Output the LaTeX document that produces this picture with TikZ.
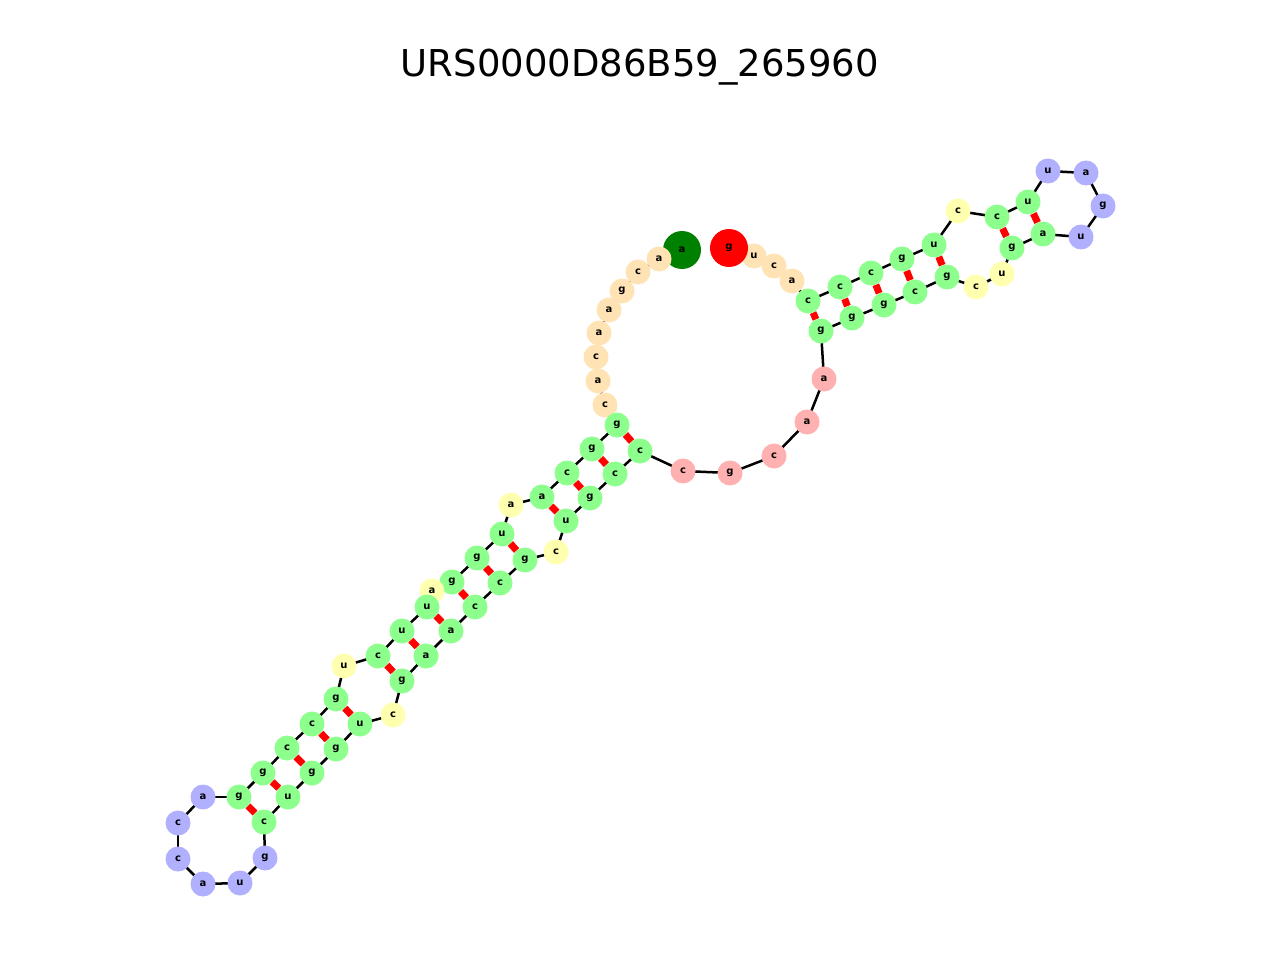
\documentclass[tikz,border=0pt]{standalone}
\usepackage{fontspec}
\setmainfont{DejaVu Sans}
\usetikzlibrary{backgrounds}
\definecolor{stemc}{HTML}{8CFF8C}
\definecolor{danglec}{HTML}{FFE3B4}
\definecolor{bulgec}{HTML}{FFFFB0}
\definecolor{hairpinc}{HTML}{B0B0FF}
\definecolor{multic}{HTML}{FFB0B0}
\definecolor{fivec}{HTML}{008000}
\begin{document}
\begin{tikzpicture}[x=1pt,y=-1pt]
        % nucleotide styles
        \tikzset{
          base/.style={circle,inner sep=0pt,minimum size=25pt,font=\bfseries\fontsize{10}{10}\selectfont},
          s/.style={base,fill=stemc}, d/.style={base,fill=danglec},
          b/.style={base,fill=bulgec}, h/.style={base,fill=hairpinc},
          m/.style={base,fill=multic},
          fiveend/.style={base,fill=fivec,minimum size=38pt},
          threeend/.style={base,fill=red,minimum size=38pt},
          backbone/.style={draw=black,line width=2.5pt},
          pairing/.style={draw=red,line width=7pt}
        }
        \useasboundingbox (0,0) rectangle (1280,960);
        \node[font=\fontsize{37}{37}\selectfont] (title) at (640,67) {URS0000D86B59\_265960};

        \foreach \i/\x/\y/\l/\st in {
          1/682/250/a/fiveend, 2/659/259/a/d, 3/638/272/c/d, 4/622/291/g/d, 5/609/310/a/d,
          6/599/333/a/d, 7/596/357/c/d, 8/598/381/a/d, 9/605/405/c/d, 10/617/425/g/s,
          11/592/449/g/s, 12/567/473/c/s, 13/542/497/a/s, 14/511/505/a/b, 15/502/534/u/s,
          16/477/558/g/s, 17/452/582/g/s, 18/432/591/a/b, 19/427/607/u/s, 20/402/631/u/s,
          21/378/656/c/s, 22/344/666/u/b, 23/336/699/g/s, 24/312/724/c/s, 25/287/748/c/s,
          26/263/773/g/s, 27/239/797/g/s, 28/203/797/a/h, 29/178/823/c/h, 30/178/859/c/h,
          31/203/884/a/h, 32/240/883/u/h, 33/265/858/g/h, 34/264/822/c/s, 35/288/797/u/s,
          36/312/773/g/s, 37/336/749/g/s, 38/360/724/u/s, 39/393/715/c/b, 40/402/681/g/s,
          41/426/656/a/s, 42/451/631/a/s, 43/475/607/c/s, 44/500/583/c/s, 45/525/560/g/s,
          46/556/552/c/b, 47/566/521/u/s, 48/590/498/g/s, 49/615/474/c/s, 50/640/451/c/s,
          51/683/471/c/m, 52/730/473/g/m, 53/774/456/c/m, 54/807/422/a/m, 55/824/379/a/m,
          56/821/331/g/s, 57/852/318/g/s, 58/884/305/g/s, 59/915/292/c/s, 60/947/277/g/s,
          61/976/287/c/b, 62/1002/274/u/b, 63/1012/248/g/s, 64/1043/234/a/s, 65/1081/237/u/h,
          66/1103/206/g/h, 67/1086/173/a/h, 68/1048/171/u/h, 69/1028/202/u/s, 70/997/217/c/s,
          71/958/211/c/b, 72/934/245/u/s, 73/902/259/g/s, 74/871/273/c/s, 75/840/287/c/s,
          76/808/301/c/s, 77/792/281/a/d, 78/774/266/c/d, 79/754/256/u/d, 80/729/248/g/threeend}
          \node[\st] (n\i) at (\x,\y) {\l};

        \begin{scope}[on background layer]
          \foreach \i [evaluate=\i as \j using int(\i+1)] in {1,...,79}
            \draw[backbone] (n\i.center) -- (n\j.center);
          \foreach \p/\q in {10/50,11/49,12/48,13/47,15/45,16/44,17/43,19/42,20/41,21/40,
                             23/38,24/37,25/36,26/35,27/34,56/76,57/75,58/74,59/73,60/72,63/70,64/69}
            \draw[pairing] (n\p) -- (n\q);
        \end{scope}
\end{tikzpicture}
\end{document}
